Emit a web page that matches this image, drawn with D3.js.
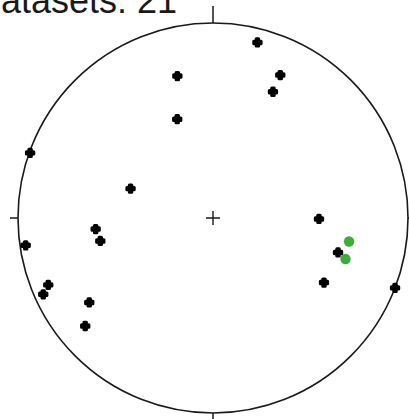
<!DOCTYPE html>
<html>
<head>
<meta charset="utf-8">
<script src="https://cdn.jsdelivr.net/npm/d3@7"></script>
<style>
  body { margin: 0; background: #fff; }
  svg { display: block; }
</style>
</head>
<body>
<div id="net"></div>
<script>
var svgWidth = 409;
var svgHeight = 419;

// net centre and radius in pixels
var cx = 213, cy = 218, radius = 195;

// lineations: trend / plunge in degrees (lower hemisphere)
var blackTrend  = [14.2, 345.9, 25.2, 25.4, 340.1, 289.6, 289.6, 264.6, 258.5, 261.7,
                   247.9, 245.8, 235.7, 229.8, 90.5, 105.4, 120.2, 111.0];
var blackPlunge = [7.9, 25.9, 20.1, 29.1, 45.2, 0.5, 53.0, 39.4, 40.7, 3.3,
                   9.7, 5.1, 24.2, 15.3, 44.8, 33.9, 34.5, 0.0];

var greenTrend  = [99.8, 107.2];
var greenPlunge = [29.9, 29.6];

var titleText = "Datasets: 21";

var svg = d3.select("#net")
  .append("svg")
  .attr("width", svgWidth)
  .attr("height", svgHeight);

// unit net coordinates -> pixels
var xScale = d3.scaleLinear().domain([-1, 1]).range([cx - radius, cx + radius]);
var yScale = d3.scaleLinear().domain([-1, 1]).range([cy + radius, cy - radius]);

// Schmidt (equal area) projection
function project(trend, plunge) {
  var rho = Math.SQRT2 * Math.sin((90 - plunge) / 2 * Math.PI / 180);
  var t = trend * Math.PI / 180;
  return [xScale(rho * Math.sin(t)), yScale(rho * Math.cos(t))];
}

var blackData = blackTrend.map((t, i) => project(t, blackPlunge[i]));
var greenData = greenTrend.map((t, i) => project(t, greenPlunge[i]));

// title, partly off the left edge like the original
svg.append("text")
  .attr("x", -25)
  .attr("y", 13)
  .style("font-family", "Liberation Sans, Arial, sans-serif")
  .style("font-size", "36px")
  .attr("fill", "#1a1a1a")
  .text(titleText);

// primitive circle
svg.append("circle")
  .attr("cx", xScale(0))
  .attr("cy", yScale(0))
  .attr("r", xScale(1) - xScale(0))
  .attr("fill", "none")
  .attr("stroke", "#1a1a1a")
  .attr("stroke-width", 1.6);

// N / W / S / E ticks
var ticks = [
  [xScale(0), yScale(1), xScale(0), yScale(1) - 17],
  [xScale(-1), yScale(0), xScale(-1) - 8, yScale(0)],
  [xScale(0), yScale(-1), xScale(0), yScale(-1) + 8],
  [xScale(1), yScale(0), xScale(1) + 8, yScale(0)]
];
svg.selectAll("line.tick")
  .data(ticks)
  .enter()
  .append("line")
  .attr("class", "tick")
  .attr("x1", d => d[0]).attr("y1", d => d[1])
  .attr("x2", d => d[2]).attr("y2", d => d[3])
  .attr("stroke", "#1a1a1a")
  .attr("stroke-width", 1.5);

// centre cross
svg.append("path")
  .attr("d", `M${xScale(0) - 7},${yScale(0)}H${xScale(0) + 7}M${xScale(0)},${yScale(0) - 7}V${yScale(0) + 7}`)
  .attr("stroke", "#1a1a1a")
  .attr("stroke-width", 1.4);

// black crosses
var cross = d3.symbol().type(d3.symbolCross).size(30);
svg.selectAll("path.pt")
  .data(blackData)
  .enter()
  .append("path")
  .attr("class", "pt")
  .attr("transform", d => `translate(${d[0]},${d[1]})`)
  .attr("d", cross)
  .attr("fill", "#000")
  .attr("stroke", "#000")
  .attr("stroke-width", 3)
  .attr("stroke-linejoin", "round");

// green dots
svg.selectAll("circle.green")
  .data(greenData)
  .enter()
  .append("circle")
  .attr("class", "green")
  .attr("cx", d => d[0])
  .attr("cy", d => d[1])
  .attr("r", 5.2)
  .attr("fill", "#3cad3c");
</script>
</body>
</html>
